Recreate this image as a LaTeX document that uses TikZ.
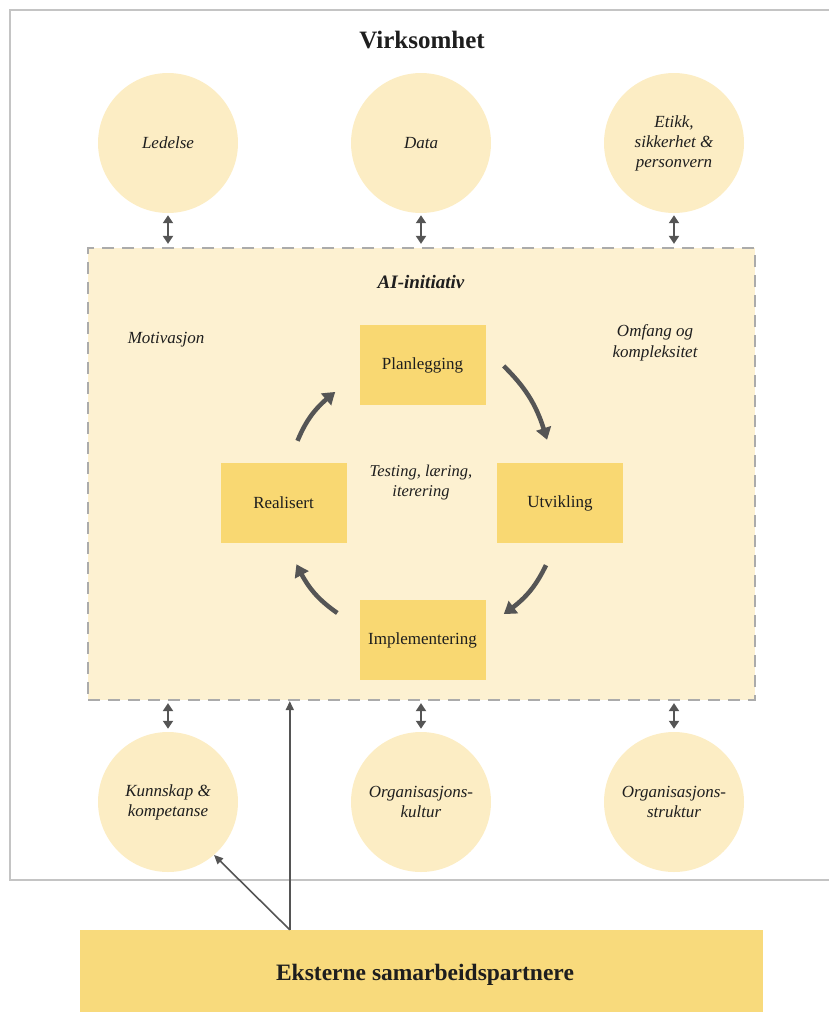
\documentclass[tikz,border=0pt]{standalone}
\usepackage{fontspec}
\setmainfont{Liberation Serif}
\usetikzlibrary{calc,arrows.meta,bending}

\definecolor{framegray}{HTML}{C4C4C4}
\definecolor{dashgray}{HTML}{ABABAB}
\definecolor{arrowgray}{HTML}{555555}
\definecolor{paleyellow}{HTML}{FCEDC4}
\definecolor{areayellow}{HTML}{FDF1D1}
\definecolor{stepyellow}{HTML}{F9D872}
\definecolor{extyellow}{HTML}{F8DA7C}
\definecolor{inkdark}{HTML}{1E1E1E}

\newcommand{\fs}[2]{\fontsize{#1}{#2}\selectfont}

\tikzset{
  factor/.style={circle, fill=paleyellow, minimum size=140pt, inner sep=0pt,
    align=center, text=inkdark, font=\fs{17}{20}\itshape},
  stepbox/.style={rectangle, fill=stepyellow, minimum width=126pt,
    minimum height=80pt, inner sep=0pt, text=inkdark, font=\fs{17}{20}},
  note/.style={align=center, text=inkdark, font=\fs{17}{21}\itshape},
  linkarrow/.style={draw=arrowgray, line width=2.4pt,
    {Triangle[length=8pt,width=10pt]}-{Triangle[length=8pt,width=10pt]},
    shorten <=2pt, shorten >=3pt},
  cyclearrow/.style={draw=arrowgray, line width=4.5pt,
    -{Triangle[length=12pt,width=15pt,bend]}},
  feedarrow/.style={draw=arrowgray, line width=1.6pt,
    -{Triangle[length=9pt,width=8pt]}}
}

\begin{document}
\begin{tikzpicture}[x=1pt,y=-1pt]
  \useasboundingbox (0,0) rectangle (829,1012);
  \clip (0,0) rectangle (829,1012);

  % organisation frame (open to the right)
  \draw[framegray, line width=1.6pt] (10,10) rectangle (860,880);
  \node[font=\fs{25}{30}\bfseries, text=inkdark] (virk) at (422,40) {Virksomhet};

  % AI initiative area
  \node[draw=dashgray, fill=areayellow, line width=2.2pt,
        dash pattern=on 12pt off 8pt, minimum width=667pt, minimum height=452pt,
        inner sep=0pt] (ai) at (421.5,474) {};
  \node[font=\fs{19}{22}\bfseries\itshape, text=inkdark] (aititle) at (421,282) {AI-initiativ};
  \node[note] (motiv) at (166,340) {Motivasjon};
  \node[note] (omfang) at (655,343) {Omfang og\\kompleksitet};
  \node[note, font=\fs{16.5}{20}\itshape] (test) at (421,483) {Testing, læring,\\iterering};

  % development cycle
  \node[stepbox] (pla) at (422.5,365) {Planlegging};
  \node[stepbox] (utv) at (560,503) {Utvikling};
  \node[stepbox] (imp) at (422.5,640) {Implementering};
  \node[stepbox] (rea) at (283.5,503) {Realisert};

  \draw[cyclearrow] ($(rea.north)+(14,-22)$) to[bend left=15] ($(pla.west)+(-24,27)$);
  \draw[cyclearrow] ($(pla.east)+(18,1)$) to[bend left=15] ($(utv.north)+(-13,-23)$);
  \draw[cyclearrow] ($(utv.south)+(-14,22)$) to[bend left=15] ($(imp.east)+(18,-26)$);
  \draw[cyclearrow] ($(imp.west)+(-22,-27)$) to[bend left=15] ($(rea.south)+(13,21)$);

  % surrounding factors
  \node[factor] (led) at (168,143) {Ledelse};
  \node[factor] (dat) at (421,143) {Data};
  \node[factor] (eti) at (674,143) {Etikk,\\sikkerhet \&\\personvern};
  \node[factor] (kun) at (168,802) {Kunnskap \&\\kompetanse};
  \node[factor] (kul) at (421,802) {Organisasjons-\\kultur};
  \node[factor] (str) at (674,802) {Organisasjons-\\struktur};

  \draw[linkarrow] (led) -- (led |- ai.north);
  \draw[linkarrow] (dat) -- (dat |- ai.north);
  \draw[linkarrow] (eti) -- (eti |- ai.north);
  \draw[linkarrow] (ai.south -| kun) -- (kun);
  \draw[linkarrow] (ai.south -| kul) -- (kul);
  \draw[linkarrow] (ai.south -| str) -- (str);

  % external partners
  \node[rectangle, fill=extyellow, minimum width=683pt, minimum height=100pt,
        inner sep=0pt] (ext) at (421.5,980) {};
  \node[font=\fs{23.5}{28}\bfseries, text=inkdark] (exttext) at (425,975) {Eksterne samarbeidspartnere};

  \coordinate (src) at ($(ext.north west)+(210,0)$);
  \draw[feedarrow] (src) -- (src |- ai.south);
  \draw[feedarrow] (src) -- (kun.311);
\end{tikzpicture}
\end{document}
